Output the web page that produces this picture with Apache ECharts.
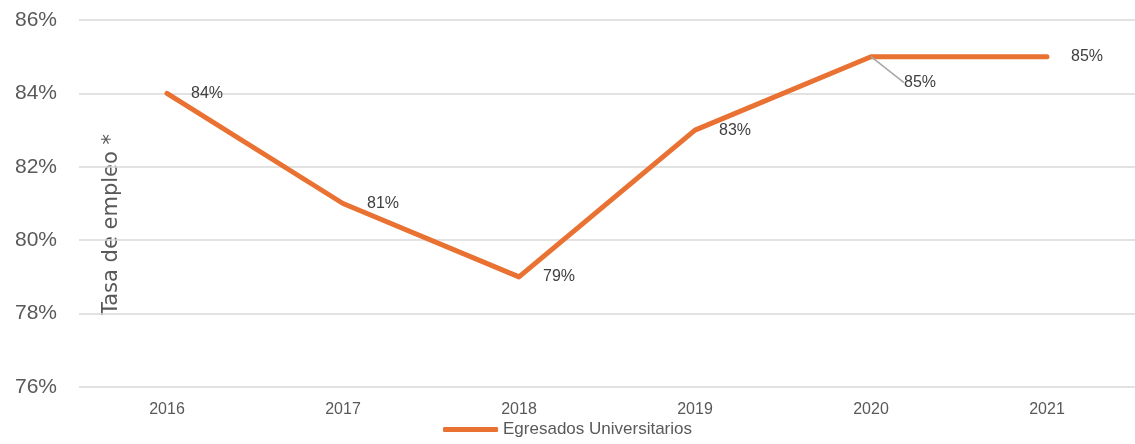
<!DOCTYPE html>
<html lang="es">
<head>
<meta charset="UTF-8">
<title>Tasa de empleo</title>
<script src="https://cdn.jsdelivr.net/npm/echarts@6/dist/echarts.min.js"></script>
<style>
  html, body { margin: 0; padding: 0; background: #fff; }
  #chart { width: 1135px; height: 444px; }
</style>
</head>
<body>
<div id="chart"></div>
<script>
// datos
const years = ['2016', '2017', '2018', '2019', '2020', '2021']
const egresados = [84, 81, 79, 83, 85, 85]
const serieNombre = 'Egresados Universitarios'
const ejeNombre = 'Tasa de empleo *'

const chart = echarts.init(document.getElementById('chart'))
const fuente = 'Liberation Sans, Arial, sans-serif'

// solo la etiqueta de 2020 va desplazada con linea guia
const puntos = egresados.map((v, i) => i === 4
  ? { value: v, labelLine: { show: true, lineStyle: { color: '#a6a6a6', width: 1.5 } } }
  : v)

chart.setOption({
  animation: false,
  textStyle: { fontFamily: fuente },
  grid: { left: 79, top: 20, width: 1066, height: 367 },
  legend: {
    bottom: 1,
    left: 'center',
    itemWidth: 55,
    itemHeight: 5,
    itemGap: 6,
    icon: 'roundRect',
    textStyle: { fontSize: 17, color: '#595959' },
    data: [serieNombre]
  },
  xAxis: {
    type: 'category',
    data: years,
    boundaryGap: true,
    axisLine: { show: false },
    axisTick: { show: false },
    axisLabel: { fontSize: 16, color: '#595959', margin: 15 }
  },
  yAxis: {
    type: 'value',
    min: 76,
    max: 86,
    interval: 2,
    axisLabel: {
      formatter: v => v + '%',
      fontSize: 21,
      color: '#595959',
      margin: 22
    },
    splitLine: { lineStyle: { color: '#d9d9d9', width: 1.5 } },
    axisLine: { show: false },
    axisTick: { show: false }
  },
  graphic: [{
    type: 'text',
    left: 101,
    top: 134,
    rotation: Math.PI / 2,
    style: { text: ejeNombre, fontSize: 21, fill: '#595959', fontFamily: 'DejaVu Sans, sans-serif' }
  }],
  series: [{
    name: serieNombre,
    type: 'line',
    data: puntos,
    symbol: 'circle',
    symbolSize: 0,
    showSymbol: true,
    lineStyle: { color: '#e97132', width: 5, cap: 'round', join: 'round' },
    itemStyle: { color: '#e97132' },
    label: {
      show: true,
      position: 'right',
      distance: 24,
      formatter: p => p.value + '%',
      fontSize: 16,
      color: '#404040'
    },
    labelLine: { show: false },
    labelLayout: p => p.dataIndex === 4 ? { dx: 9, dy: 26 } : {}
  }]
})
</script>
</body>
</html>
